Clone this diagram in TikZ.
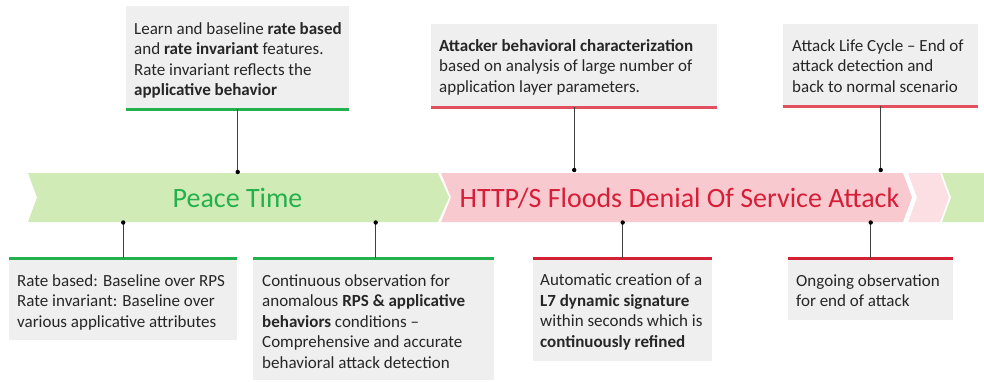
\documentclass[tikz,border=0pt]{standalone}
\usepackage{fontspec}
\setmainfont{Carlito}
\usetikzlibrary{positioning}
\definecolor{peacefill}{RGB}{209,235,182}
\definecolor{peacetext}{RGB}{34,177,76}
\definecolor{attackfill}{RGB}{248,202,208}
\definecolor{endfill}{RGB}{251,223,227}
\definecolor{attacktext}{RGB}{214,30,56}
\definecolor{boxgray}{RGB}{239,239,239}
\definecolor{greenline}{RGB}{34,177,76}
\definecolor{redline}{RGB}{226,80,96}
\definecolor{deepred}{RGB}{212,32,52}
\definecolor{txt}{RGB}{38,38,38}
\tikzset{
 infobox/.style={fill=boxgray, inner sep=0pt, anchor=north west},
 infotext/.style={inner sep=0pt, align=left, text=txt, font=\fontsize{17}{20.5}\selectfont},
 bigtext/.style={inner sep=0pt, anchor=base, font=\fontsize{28}{28}\selectfont},
 pinline/.style={draw=black!75, line width=0.8pt},
}

\begin{document}
\begin{tikzpicture}[x=1pt,y=-1pt]
 \useasboundingbox (0,0) rectangle (984,381); %全体の枠
 \fill[peacefill] (28,173)--(438,173)--(449,197.5)--(438,222)--(28,222)--(37,197.5)--cycle; %平時
 \fill[attackfill] (441,173)--(903,173)--(912,197.5)--(903,222)--(441,222)--(451,197.5)--cycle; %攻撃
 \fill[endfill] (908,173)--(940,173)--(949,197.5)--(940,222)--(908,222)--(917,197.5)--cycle; %終了
 \fill[peacefill] (942,173)--(984,173)--(984,222)--(942,222)--(951,197.5)--cycle; %平時に戻る
 \node[bigtext, text=peacetext] (peace) at (237.5,207) {Peace Time};
 \node[bigtext, text=attacktext] (attack) at (679.5,207) {HTTP/S Floods Denial Of Service Attack};

 % 上の箱
 \node[infobox, minimum width=223pt, minimum height=103pt] (learn) at (126,6) {};
 \node[infotext, below right=16pt and 8pt of learn.north west] (learn-t) {Learn and baseline \textbf{rate based}\\and \textbf{rate invariant} features.\\Rate invariant reflects the\\\textbf{applicative behavior}};
 \draw[greenline, line width=3pt] (learn.south west)--(learn.south east);
 \node[infobox, minimum width=286pt, minimum height=83pt] (charac) at (431,24) {};
 \node[infotext, below right=15pt and 8pt of charac.north west] (charac-t) {\textbf{Attacker behavioral characterization}\\based on analysis of large number of\\application layer parameters.};
 \draw[redline, line width=3pt] (charac.south west)--(charac.south east);
 \node[infobox, minimum width=195pt, minimum height=82pt] (cycle) at (783,24) {};
 \node[infotext, below right=15pt and 9pt of cycle.north west] (cycle-t) {Attack Life Cycle -- End of\\attack detection and\\back to normal scenario};
 \draw[redline, line width=3pt] (cycle.south west)--(cycle.south east);

 % 下の箱
 \node[infobox, minimum width=228pt, minimum height=82pt] (rate) at (9,258) {};
 \node[infotext, below right=16pt and 8pt of rate.north west] (rate-t) {Rate based: Baseline over RPS\\Rate invariant: Baseline over\\various applicative attributes};
 \draw[greenline, line width=3pt] (rate.north west)--(rate.north east);
 \node[infobox, minimum width=241pt, minimum height=122pt] (observe) at (253,258) {};
 \node[infotext, below right=16pt and 9pt of observe.north west] (observe-t) {Continuous observation for\\anomalous \textbf{RPS \& applicative}\\\textbf{behaviors} conditions --\\Comprehensive and accurate\\behavioral attack detection};
 \draw[greenline, line width=3pt] (observe.north west)--(observe.north east);
 \node[infobox, minimum width=179pt, minimum height=103pt] (sign) at (533,258) {};
 \node[infotext, below right=16pt and 7pt of sign.north west] (sign-t) {Automatic creation of a\\\textbf{L7 dynamic signature}\\within seconds which is\\\textbf{continuously refined}};
 \draw[deepred, line width=3pt] (sign.north west)--(sign.north east);
 \node[infobox, minimum width=165pt, minimum height=62pt] (ongoing) at (788,258) {};
 \node[infotext, below right=16pt and 8pt of ongoing.north west] (ongoing-t) {Ongoing observation\\for end of attack};
 \draw[deepred, line width=3pt] (ongoing.north west)--(ongoing.north east);

 % 点と線
 \coordinate (p1) at (learn.south |- 0,172); %点1
 \coordinate (p2) at (charac.south |- 0,170); %点2
 \coordinate (p3) at (cycle.south |- 0,170); %点3
 \coordinate (q1) at (rate.north |- 0,222.5); %点4
 \coordinate (q2) at (375.7,222.5); %点5
 \coordinate (q3) at (sign.north |- 0,222.5); %点6
 \coordinate (q4) at (ongoing.north |- 0,222.5); %点7
 \draw[pinline] (learn.south)--(p1);
 \draw[pinline] (charac.south)--(p2);
 \draw[pinline] (cycle.south)--(p3);
 \draw[pinline] (rate.north)--(q1);
 \draw[pinline] (observe.north -| q2)--(q2);
 \draw[pinline] (sign.north)--(q3);
 \draw[pinline] (ongoing.north)--(q4);
 \foreach \p in {p1,p2,p3,q1,q2,q3,q4} \fill (\p) circle (2.2); %点の塗りつぶし
\end{tikzpicture}
\end{document}
